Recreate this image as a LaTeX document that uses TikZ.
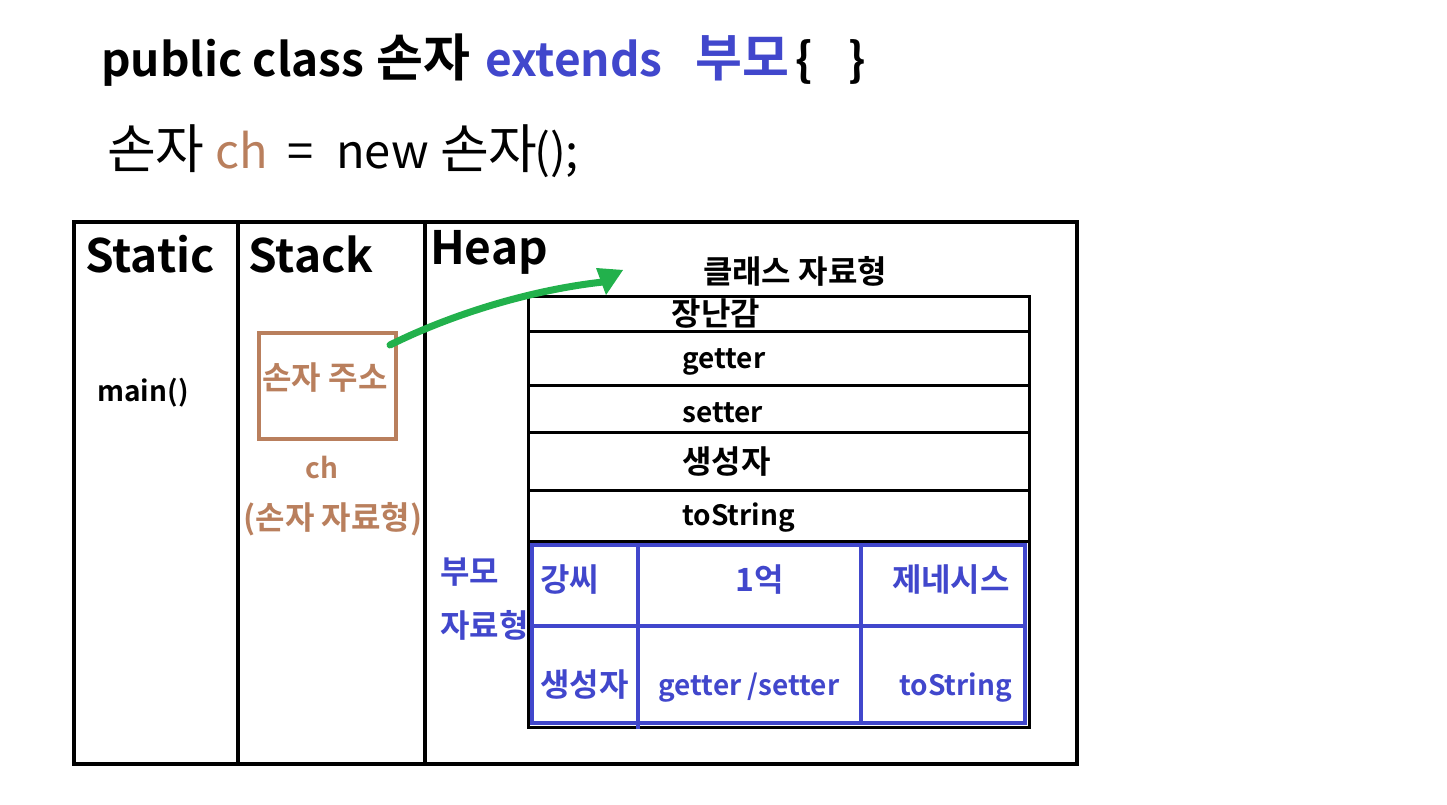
\documentclass[tikz,border=0pt]{standalone}
\usepackage{fontspec}
\setmainfont{Noto Sans CJK KR}
\newfontfamily\kb{Noto Sans CJK KR Bold}
\definecolor{brn}{RGB}{185,127,93}
\definecolor{blu}{RGB}{65,71,204}
\definecolor{grn}{RGB}{34,177,76}
\newcommand\fsz[1]{\fontsize{#1}{#1}\selectfont}
\tikzset{
  lat/.style={inner sep=0pt, font=\kb\fsz{28}},
  kor/.style={inner sep=0pt, font=\kb\fsz{32}},
  big/.style={inner sep=0pt, font=\kb\fsz{46}},
  tb/.style={anchor=base west, inner sep=0pt, font=\kb\fsz{46}},
  tbk/.style={anchor=base west, inner sep=0pt, font=\kb\fsz{51}},
  tr/.style={anchor=base west, inner sep=0pt, font=\fsz{47}},
  trk/.style={anchor=base west, inner sep=0pt, font=\fsz{53}},
}
\begin{document}
\begin{tikzpicture}[x=1pt,y=-1pt]
\useasboundingbox (0,0) rectangle (1447,805);
\fill[white] (0,0) rectangle (1447,805);
% title line
\node[tb] (t1a) at (101,77) {public class};
\node[tbk] (t1b) at (376,77) {손자};
\node[tb, text=blu] (t1c) at (485,77) {extends};
\node[tbk, text=blu] (t1d) at (695,77) {부모};
\node[tb] (t1e) at (795,77) {\{};
\node[tb] (t1f) at (848,77) {\}};
% second line
\node[trk] (t2a) at (107,168) {손자};
\node[tr, text=brn] (t2b) at (215,168) {ch};
\node[tr] (t2c) at (287,168) {=};
\node[tr] (t2d) at (336,168) {new};
\node[trk] (t2e) at (440,168) {손자};
\node[tr] (t2f) at (534,168) {();};
% memory regions
\draw[line width=4pt] (74,222) rectangle (1077,764);
\draw[line width=4pt] (238,222) -- (238,764);
\draw[line width=4pt] (425,222) -- (425,764);
\node[big, anchor=center] (static) at (150,254) {Static};
\node[big, anchor=center] (stack) at (311,254) {Stack};
\node[big, anchor=center] (heap) at (489,252) {Heap};
\node[lat, anchor=center] (main) at (143,393) {main()};
% stack variable
\node[draw=brn, line width=4pt, minimum width=137pt, minimum height=106pt, inner sep=0pt] (addr) at (327.5,386) {};
\node[kor, text=brn] (addrtxt) at (325,378) {손자 주소};
\node[inner sep=0pt, text=brn, font=\kb\fsz{28}] (ch) at (322,468) {ch};
\node[kor, text=brn] (chtype) at (333,519) {(손자 자료형)};
% class type
\node[kor, anchor=center] (cls) at (795,271) {클래스 자료형};
\draw[line width=3pt] (528,296) rectangle (1029,727);
\foreach \yy in {331,385,432,490,541} \draw[line width=3pt] (528,\yy) -- (1029,\yy);
\node[kor, anchor=center] (toy) at (716,314) {장난감};
\node[lat, anchor=west] (get) at (682,362) {getter};
\node[lat, anchor=west] (set) at (682,413) {setter};
\node[kor, anchor=west] (ctor) at (682,462) {생성자};
\node[lat, anchor=west] (tos) at (682,518) {toString};
% parent type
\node[kor, text=blu, anchor=west] (p1) at (440,572) {부모};
\node[kor, text=blu, anchor=west] (p2) at (440,625) {자료형};
\draw[blu, line width=4pt] (532,545) rectangle (1025,723);
\draw[blu, line width=4pt] (532,626) -- (1025,626);
\draw[blu, line width=4pt] (638,545) -- (638,729);
\draw[blu, line width=4pt] (861,545) -- (861,723);
\node[kor, text=blu, anchor=west] (c1) at (540,580) {강씨};
\node[kor, text=blu, anchor=center] (c2) at (760,580) {1억};
\node[kor, text=blu, anchor=east] (c3) at (1010,580) {제네시스};
\node[kor, text=blu, anchor=west] (c4) at (540,685) {생성자};
\node[lat, text=blu, anchor=center] (c5) at (749,688) {getter /setter};
\node[lat, text=blu, anchor=east] (c6) at (1012,688) {toString};
% arrow
\coordinate (tip) at (623,270);
\draw[grn, line width=7pt, line cap=round] (addr.north east) ++(-8,14) .. controls (450,315) and (530,290) .. (603,282);
\fill[grn] (tip) -- (606,295) -- (596,268) -- cycle;
\end{tikzpicture}
\end{document}
